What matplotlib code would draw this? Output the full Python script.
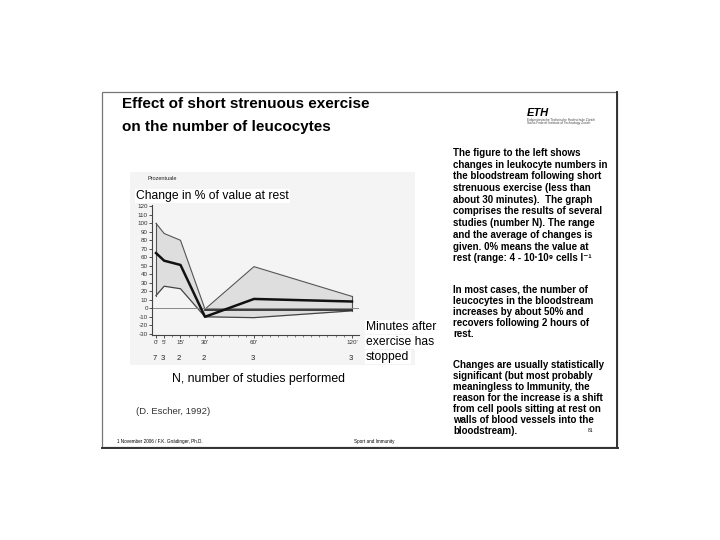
import matplotlib.pyplot as plt
import matplotlib.ticker as ticker
from matplotlib.patches import Rectangle
from matplotlib.lines import Line2D

plt.rcParams['font.family'] = ['Liberation Sans', 'DejaVu Sans']
plt.rcParams['axes.unicode_minus'] = False

# data (change in % of value at rest)
minutes = [0, 5, 15, 30, 60, 120]
tick_labels = ["0'", "5'", "15'", "30'", "60'", "120'"]
n_studies = [7, 3, 2, 2, 3, 3]
upper = [100, 88, 80, -1, 49, 14]
mean = [65, 56, 51, -10, 11, 8]
lower = [15, 26, 23, -10, -11, -3]
base_min = [30, 120]
base_val = [-2, -2]

para1 = ["The figure to the left shows",
         "changes in leukocyte numbers in",
         "the bloodstream following short",
         "strenuous exercise (less than",
         "about 30 minutes).  The graph",
         "comprises the results of several",
         "studies (number N). The range",
         "and the average of changes is",
         "given. 0% means the value at",
         "rest (range: 4 - 10\u00b710\u2079 cells l\u207b\u00b9"]
para2 = ["In most cases, the number of",
         "leucocytes in the bloodstream",
         "increases by about 50% and",
         "recovers following 2 hours of",
         "rest."]
para3 = ["Changes are usually statistically",
         "significant (but most probably",
         "meaningless to Immunity, the",
         "reason for the increase is a shift",
         "from cell pools sitting at rest on",
         "walls of blood vessels into the",
         "bloodstream)."]

W, H = 720, 540
fig = plt.figure(figsize=(7.2, 5.4), dpi=100)


def px(x, y):
    return x / W, 1 - y / H


def ptext(x, y, s, **kw):
    fx, fy = px(x, y)
    return fig.text(fx, fy, s, **kw)


# slide frame
fig.patches.append(Rectangle(px(102, 447), 515 / W, 355 / H, transform=fig.transFigure,
                             fill=False, ec='#777777', lw=0.9, zorder=-2))
fig.lines.append(Line2D([617 / W, 617 / W], [1 - 92 / H, 1 - 448 / H],
                        transform=fig.transFigure, color='#333333', lw=1.4))
fig.lines.append(Line2D([102 / W, 618 / W], [1 - 447.5 / H, 1 - 447.5 / H],
                        transform=fig.transFigure, color='#333333', lw=1.4))

# light grey scan background
fig.patches.append(Rectangle(px(130, 365), 285 / W, 193 / H, transform=fig.transFigure,
                             fc='#f4f4f4', ec='none', zorder=-1))

# title
ptext(122, 104, "Effect of short strenuous exercise", fontsize=11, fontweight='bold', va='center')
ptext(122, 127, "on the number of leucocytes", fontsize=11, fontweight='bold', va='center')

# ETH logo
ptext(527, 113, "ETH", fontsize=8, fontweight='bold', fontstyle='italic', va='center')
ptext(527, 119.5, "Eidgen\u00f6ssische Technische Hochschule Z\u00fcrich", fontsize=2.3, va='center', color='#444444')
ptext(527, 123, "Swiss Federal Institute of Technology Zurich", fontsize=2.3, va='center', color='#444444')

# chart
x0, x1 = -2.5, 124.5
y0, y1 = -31, 122
left_px = 156 + x0 * 1.633
right_px = 156 + x1 * 1.633
top_px = 308.3 - y1 * 0.85
bot_px = 308.3 - y0 * 0.85
ax = fig.add_axes([left_px / W, 1 - bot_px / H, (right_px - left_px) / W, (bot_px - top_px) / H])
ax.set_facecolor('none')
ax.set_xlim(x0, x1)
ax.set_ylim(y0, y1)

ax.fill_between(minutes, lower, upper, color='#dedede', lw=0)
ax.plot(minutes, upper, color='#555555', lw=0.8)
ax.plot(minutes, lower, color='#444444', lw=0.9)
ax.plot([minutes[0], minutes[0]], [lower[0], upper[0]], color='#555555', lw=0.8)
ax.plot([minutes[-1], minutes[-1]], [lower[-1], upper[-1]], color='#555555', lw=0.8)
ax.axhline(0, color='#888888', lw=0.7)
ax.plot(base_min, base_val, color='#222222', lw=1.2)
ax.plot(minutes, mean, color='#111111', lw=1.8)

for s in ['top', 'right']:
    ax.spines[s].set_visible(False)
for s in ['left', 'bottom']:
    ax.spines[s].set_color('#444444')
    ax.spines[s].set_linewidth(0.8)

ax.set_yticks(range(-30, 121, 10))
ax.set_xticks(minutes)
ax.set_xticklabels(tick_labels)
ax.xaxis.set_minor_locator(ticker.MultipleLocator(5))
ax.tick_params(axis='y', labelsize=4.5, length=2, width=0.6, pad=1, colors='#333333')
ax.tick_params(axis='x', which='major', labelsize=4.5, length=2, width=0.6, pad=1.5, colors='#333333')
ax.tick_params(axis='x', which='minor', length=1.2, width=0.5, color='#555555')

tr = ax.get_xaxis_transform()
for m, n in zip(minutes, n_studies):
    ax.text(m - 1, -(358 - bot_px) / (bot_px - top_px), str(n), transform=tr,
            fontsize=5.5, ha='center', va='center', color='#222222')

# chart texts
ptext(147, 178, "Prozentuale", fontsize=4, va='center', color='#222222')
ptext(136, 196, "Change in % of value at rest", fontsize=8.7, va='center',
      bbox=dict(fc='white', ec='none', pad=1))
for i, line in enumerate(["Minutes after", "exercise has", "stopped"]):
    ptext(366, 327 + i * 15, line, fontsize=8.7, va='center',
          bbox=dict(fc='white', ec='none', pad=1))
ptext(172, 379, "N, number of studies performed", fontsize=8.8, va='center')
ptext(136, 412, "(D. Escher, 1992)", fontsize=6.8, va='center', color='#333333')

# right-hand text
for i, line in enumerate(para1):
    ptext(453, 153 + i * 11.7, line, fontsize=7, fontweight='bold', va='center')
for i, line in enumerate(para2):
    ptext(453, 290 + i * 11, line, fontsize=7, fontweight='bold', va='center')
for i, line in enumerate(para3):
    ptext(453, 365 + i * 11, line, fontsize=7, fontweight='bold', va='center')
ptext(588, 431, "81", fontsize=3.5, va='center')

# footer
ptext(117, 441, "1 November 2006 / F.K. Gn\u00e4dinger, Ph.D.", fontsize=3.3, va='center')
ptext(354, 441, "Sport and Immunity", fontsize=3.3, va='center')

fig.savefig("out.png", dpi=100)
